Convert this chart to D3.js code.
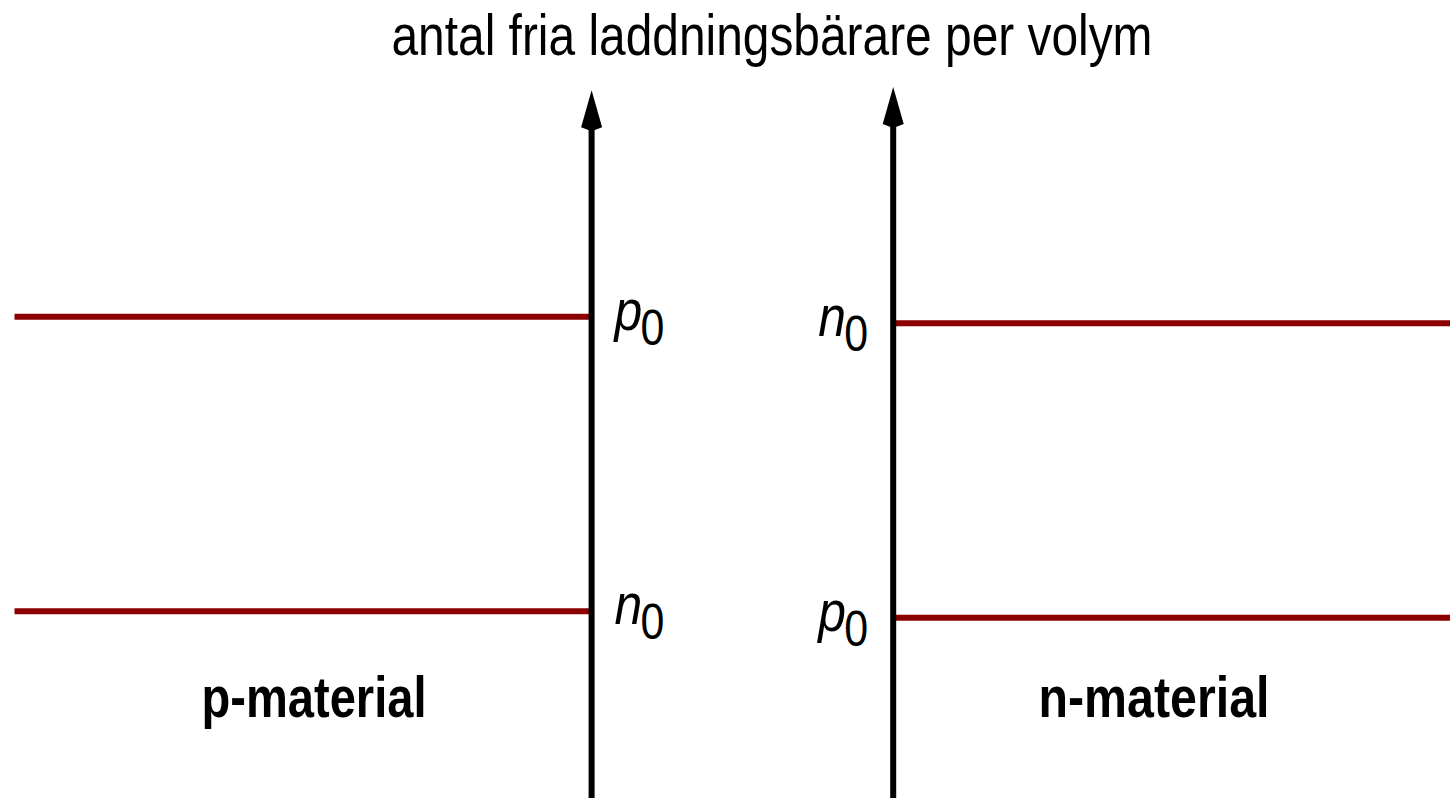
<!DOCTYPE html>
<meta charset="utf-8">
<head>
  <title>Laddningsbärare</title>
  <style>
    body { margin: 0; background: #fff; }
    svg { display: block; }
    text { font-family: "Liberation Sans", Arial, sans-serif; }
  </style>
  <script src="https://d3js.org/d3.v7.min.js"></script>
</head>
<body>
  <div id="content"></div>
  <script>
    // panels: p-material on the left, n-material on the right
    var panels = ['p-material', 'n-material'];
    // axis position (x) and arrow tip (y), in 0..100 units
    var axisX = [40.8, 61.6];
    var axisTop = [88.7, 89.1];
    // horizontal levels: which panel, carrier, start x, end x, level y
    var levelPanel = [0, 0, 1, 1];
    var levelNames = ['p', 'n', 'n', 'p'];
    var levelX0 = [1.0, 1.0, 61.6, 61.6];
    var levelX1 = [40.8, 40.8, 100, 100];
    var levelY = [60.3, 23.4, 59.5, 22.6];
    var title = 'antal fria laddningsbärare per volym';

    var width = 1450, height = 798;
    var x = d3.scaleLinear().domain([0, 100]).range([0, width]);
    var y = d3.scaleLinear().domain([0, 100]).range([height, 0]);

    var svg = d3.select('#content').append('svg')
      .attr('width', width)
      .attr('height', height);

    // red levels
    svg.selectAll('line.level')
      .data(levelY)
      .enter().append('line')
      .attr('class', 'level')
      .attr('x1', function (d, i) { return x(levelX0[i]); })
      .attr('x2', function (d, i) { return x(levelX1[i]); })
      .attr('y1', function (d) { return y(d); })
      .attr('y2', function (d) { return y(d); })
      .attr('stroke', '#8b0000')
      .attr('stroke-width', 6);

    // vertical axes
    svg.selectAll('line.axis')
      .data(axisX)
      .enter().append('line')
      .attr('class', 'axis')
      .attr('x1', function (d) { return x(d); })
      .attr('x2', function (d) { return x(d); })
      .attr('y1', height)
      .attr('y2', function (d, i) { return y(axisTop[i]) + 36; })
      .attr('stroke', '#000')
      .attr('stroke-width', 6);

    // arrowheads
    svg.selectAll('path.head')
      .data(axisX)
      .enter().append('path')
      .attr('class', 'head')
      .attr('fill', '#000')
      .attr('d', function (d, i) {
        var cx = x(d), ty = y(axisTop[i]);
        return d3.line()([[cx, ty], [cx + 10.5, ty + 37], [cx, ty + 41], [cx - 10.5, ty + 37]]) + 'Z';
      });

    // labels p0 / n0 beside the axes (narrowed a bit)
    var labels = svg.selectAll('g.lvl')
      .data(levelY)
      .enter().append('g')
      .attr('class', 'lvl')
      .attr('transform', function (d, i) {
        var lx = levelPanel[i] === 0 ? x(axisX[0]) + 23 : x(axisX[1]) - 25;
        return 'translate(' + lx + ',' + (y(d) + 13) + ') scale(0.86,1)';
      })
      .append('text')
      .attr('text-anchor', function (d, i) { return levelPanel[i] === 0 ? 'start' : 'end'; });
    labels.append('tspan')
      .attr('font-style', 'italic')
      .attr('font-size', 58)
      .text(function (d, i) { return levelNames[i]; });
    labels.append('tspan')
      .attr('dx', -2)
      .attr('dy', 15)
      .attr('font-size', 50)
      .text('0');

    // title
    svg.append('text')
      .attr('x', 772)
      .attr('y', 55)
      .attr('text-anchor', 'middle')
      .attr('font-size', 58)
      .attr('textLength', 761)
      .attr('lengthAdjust', 'spacingAndGlyphs')
      .text(title);

    // panel names
    svg.selectAll('text.panel')
      .data(panels)
      .enter().append('text')
      .attr('class', 'panel')
      .attr('x', function (d, i) { return i === 0 ? 314 : 1154; })
      .attr('y', 717)
      .attr('text-anchor', 'middle')
      .attr('font-size', 57)
      .attr('font-weight', 'bold')
      .attr('textLength', function (d, i) { return i === 0 ? 225 : 231; })
      .attr('lengthAdjust', 'spacingAndGlyphs')
      .text(function (d) { return d; });
  </script>
</body>
